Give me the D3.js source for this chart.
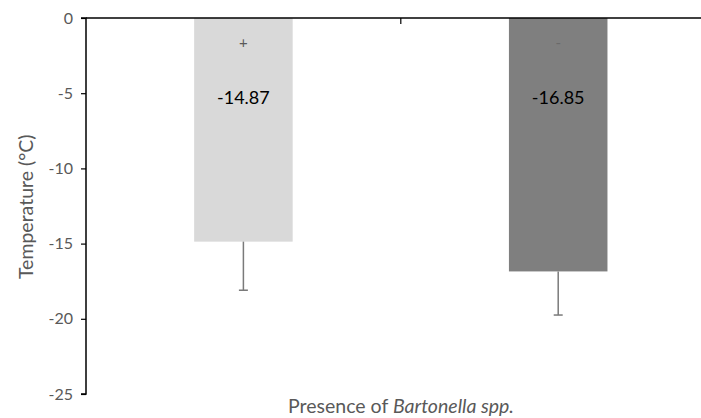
<!DOCTYPE html>
<html>
<head>
<meta charset="utf-8">
<script src="https://cdn.jsdelivr.net/npm/d3@7"></script>
<style>
  body { margin: 0; background: white; }
  text { font-family: Lato, "Open Sans", sans-serif; }
</style>
</head>
<body>
<script>
// data
var groups = ["+", "-"];
var means = [-14.87, -16.85];
var lows = [-18.1, -19.75];
var valueLabels = ["-14.87", "-16.85"];
var yTicks = [0, -5, -10, -15, -20, -25];
var barColors = ["#d9d9d9", "#7f7f7f"];

var width = 701, height = 418;
var svg = d3.select("body").append("svg")
            .attr("width", width).attr("height", height);

var plotLeft = 86, plotTop = 18, plotBottom = 394;

var y = d3.scaleLinear().domain([0, -25]).range([plotTop, plotBottom]);
var x = d3.scaleBand().domain(groups).range([plotLeft, plotLeft + 2 * 314.8])
          .paddingInner(0.687).paddingOuter(0.3435);

// bars
svg.selectAll(".bar").data(groups).enter().append("rect")
   .attr("x", function(d){ return x(d); })
   .attr("y", y(0))
   .attr("width", x.bandwidth())
   .attr("height", function(d, i){ return y(means[i]) - y(0); })
   .attr("fill", function(d, i){ return barColors[i]; });

// error bars (lower only)
var err = svg.append("g").attr("stroke", "#7a7a7a").attr("stroke-width", 1.5);
groups.forEach(function(g, i){
  var cx = x(g) + x.bandwidth() / 2;
  err.append("line").attr("x1", cx).attr("x2", cx)
     .attr("y1", y(means[i])).attr("y2", y(lows[i]));
  err.append("line").attr("x1", cx - 4.5).attr("x2", cx + 4.5)
     .attr("y1", y(lows[i])).attr("y2", y(lows[i]));
});

// y axis
var yAxis = d3.axisLeft(y).tickValues(yTicks).tickSize(5).tickPadding(8)
              .tickFormat(function(d){ return d === 0 ? "0" : d; });
var gy = svg.append("g").attr("transform", "translate(" + plotLeft + ",0)").call(yAxis);
gy.select(".domain").attr("stroke", "#000").attr("stroke-width", 1.5)
  .attr("d", "M-5," + y(-25) + "H0V" + y(0) + "H-5");
gy.selectAll(".tick line").attr("stroke", "#000").attr("stroke-width", 1.2);
gy.selectAll(".tick text").attr("fill", "#595959").style("font-size", "16px")
  .style("font-family", "Lato, 'Open Sans', sans-serif");

// x axis line at zero with tick between categories
var xAxisG = svg.append("g");
xAxisG.append("line").attr("x1", plotLeft).attr("x2", width)
      .attr("y1", y(0)).attr("y2", y(0))
      .attr("stroke", "#000").attr("stroke-width", 1.5);
var mid = x(groups[1]) - x.step() * x.paddingInner() / 2;
xAxisG.append("line").attr("x1", mid).attr("x2", mid)
      .attr("y1", y(0)).attr("y2", y(0) + 6)
      .attr("stroke", "#000").attr("stroke-width", 1.2);

// group labels inside bars
svg.selectAll(".glabel").data(groups).enter().append("text")
   .attr("x", function(d){ return x(d) + x.bandwidth() / 2; })
   .attr("y", y(-2.0))
   .attr("text-anchor", "middle")
   .attr("fill", function(d, i){ return i === 0 ? "#595959" : "#6a6a6a"; })
   .style("font-size", "15px")
   .text(function(d){ return d; });

// value labels
svg.selectAll(".vlabel").data(groups).enter().append("text")
   .attr("x", function(d){ return x(d) + x.bandwidth() / 2; })
   .attr("y", y(-5.75))
   .attr("text-anchor", "middle")
   .attr("fill", "#000")
   .style("font-size", "18px")
   .text(function(d, i){ return valueLabels[i]; });

// axis titles
var xt = svg.append("text")
   .attr("x", 401).attr("y", 413)
   .attr("text-anchor", "middle")
   .attr("fill", "#595959")
   .style("font-size", "19.5px");
xt.append("tspan").text("Presence of ");
xt.append("tspan").style("font-style", "italic").text("Bartonella spp.");

svg.append("text")
   .attr("transform", "translate(33," + (y(-12.55)) + ") rotate(-90)")
   .attr("text-anchor", "middle")
   .attr("fill", "#595959")
   .style("font-size", "19.5px")
   .text("Temperature (°C)");
</script>
</body>
</html>
